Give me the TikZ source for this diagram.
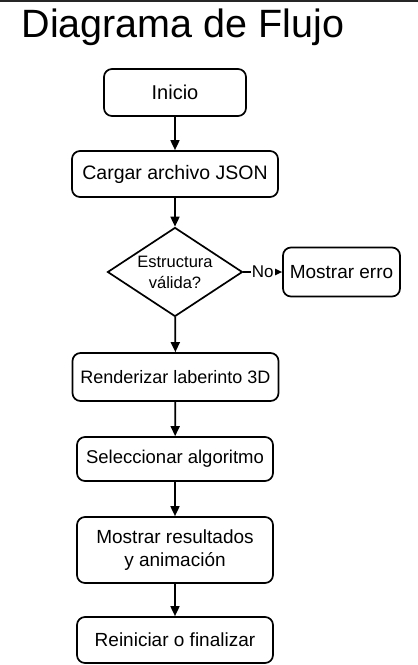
\documentclass[tikz,border=0pt]{standalone}
\usepackage{fontspec}
\setmainfont{Liberation Sans}
\usetikzlibrary{shapes.geometric,arrows.meta}
\tikzset{
  caja/.style={draw,rounded corners=8pt,line width=1.7pt,inner sep=0pt,align=center,
    font=\fontsize{19}{23}\selectfont},
  decision/.style={draw,diamond,aspect=1.5,line width=1.7pt,inner sep=0pt,align=center,
    minimum width=135pt,minimum height=89pt,font=\fontsize{16.5}{21}\selectfont},
  flecha/.style={line width=1.7pt,-{Triangle[length=10pt,width=9pt]}}
}
\begin{document}
\begin{tikzpicture}[x=1pt,y=-1pt]
\useasboundingbox (0,0) rectangle (418,665);
\fill[black!85] (0,0) rectangle (418,2);
\node[anchor=base west,font=\fontsize{39.5}{44}\selectfont] (titulo) at (18,37) {Diagrama de Flujo};
\node[caja,minimum width=142pt,minimum height=47pt,font=\fontsize{20}{23}\selectfont] (inicio) at (175,92.5) {Inicio};
\node[caja,minimum width=206pt,minimum height=46pt,font=\fontsize{19.5}{23}\selectfont] (cargar) at (175,174) {Cargar archivo JSON};
\node[decision] (valida) at (175,272) {Estructura\\válida?};
\node[caja,minimum width=117pt,minimum height=49pt] (error) at (341.5,272) {Mostrar erro};
\node[caja,minimum width=206pt,minimum height=48pt,font=\fontsize{18}{23}\selectfont] (render) at (175.5,377) {Renderizar laberinto 3D};
\node[caja,minimum width=196pt,minimum height=44pt,font=\fontsize{18.5}{23}\selectfont] (algo) at (175,459) {Seleccionar algoritmo};
\node[caja,minimum width=196pt,minimum height=66pt] (result) at (175,550) {Mostrar resultados\\y animación};
\node[caja,minimum width=196pt,minimum height=46pt] (fin) at (175,640) {Reiniciar o finalizar};
\draw[flecha] (inicio) -- (cargar);
\draw[flecha] (cargar) -- (valida);
\draw[flecha] (valida) -- node[fill=white,inner sep=1pt,font=\fontsize{17}{18}\selectfont] {No} (error);
\draw[flecha] (valida) -- (render);
\draw[flecha] (render) -- (algo);
\draw[flecha] (algo) -- (result);
\draw[flecha] (result) -- (fin);
\end{tikzpicture}
\end{document}
